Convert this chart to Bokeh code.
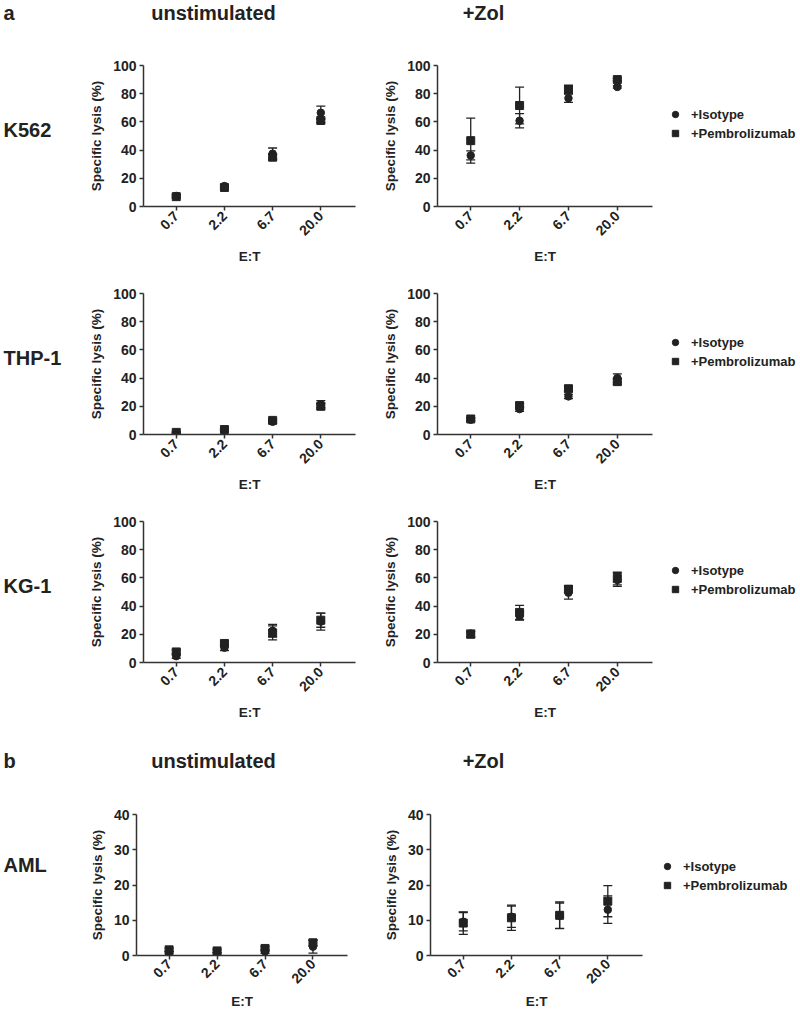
import math
from bokeh.plotting import figure
from bokeh.models import (Range1d, FixedTicker, ColumnDataSource, Whisker, TeeHead,
                          Legend, LegendItem, Label, Spacer)
from bokeh.layouts import column, row
from bokeh.embed import file_html
from bokeh.resources import INLINE

# ---------------- data ----------------
et_labels = ["0.7", "2.2", "6.7", "20.0"]
series_names = ["+Isotype", "+Pembrolizumab"]
row_labels = ["K562", "THP-1", "KG-1", "AML"]
col_titles = ["unstimulated", "+Zol"]
section_labels = ["a", "b"]

yticks_a = [0, 20, 40, 60, 80, 100]
yticks_b = [0, 10, 20, 30, 40]

# K562
k562_unstim_iso = [7.5, 14.5, 37.5, 66.5]
k562_unstim_iso_err = [1.0, 1.0, 4.0, 4.7]
k562_unstim_pem = [7.0, 13.5, 35.0, 61.0]
k562_unstim_pem_err = [0.8, 1.0, 2.0, 1.5]
k562_zol_iso = [36.2, 60.8, 76.8, 84.8]
k562_zol_iso_err = [3.2, 5.0, 3.0, 0.8]
k562_zol_pem = [46.7, 71.6, 83.0, 90.0]
k562_zol_pem_err = [16.0, 13.0, 3.0, 0.8]
# THP-1
thp1_unstim_iso = [0.8, 3.0, 9.0, 21.5]
thp1_unstim_iso_err = [0.5, 0.6, 1.0, 2.5]
thp1_unstim_pem = [1.5, 3.5, 10.0, 20.0]
thp1_unstim_pem_err = [0.5, 0.6, 1.0, 2.0]
thp1_zol_iso = [10.5, 18.0, 27.0, 40.0]
thp1_zol_iso_err = [1.0, 1.5, 1.5, 3.0]
thp1_zol_pem = [11.0, 20.5, 32.5, 37.5]
thp1_zol_pem_err = [1.0, 1.5, 2.0, 2.0]
# KG-1
kg1_unstim_iso = [4.5, 10.5, 22.5, 29.0]
kg1_unstim_iso_err = [1.5, 2.0, 4.5, 6.0]
kg1_unstim_pem = [7.5, 13.5, 21.0, 30.0]
kg1_unstim_pem_err = [1.5, 1.5, 5.0, 5.0]
kg1_zol_iso = [20.5, 33.0, 49.5, 58.5]
kg1_zol_iso_err = [2.5, 3.0, 4.5, 4.5]
kg1_zol_pem = [20.0, 35.5, 52.0, 59.5]
kg1_zol_pem_err = [2.0, 5.0, 2.5, 4.5]
# AML
aml_unstim_iso = [0.6, 0.4, 1.1, 2.5]
aml_unstim_iso_err = [0.5, 0.4, 0.5, 1.8]
aml_unstim_pem = [1.6, 1.3, 2.0, 3.6]
aml_unstim_pem_err = [0.4, 0.4, 0.5, 0.8]
aml_zol_iso = [9.6, 11.0, 11.3, 13.0]
aml_zol_iso_err = [2.6, 3.0, 3.6, 3.9]
aml_zol_pem = [9.2, 10.7, 11.4, 15.4]
aml_zol_pem_err = [3.2, 3.6, 3.8, 4.4]

# ---------------- style ----------------
FONT = "Liberation Sans"
DARK = "#222222"
AXC = "#333333"
W_TOTAL = 800
LABEL_W = 86
MARKERS = [("circle", 7.5), ("square", 8)]


def blank(width, height):
    p = figure(width=width, height=height, x_range=Range1d(0, width), y_range=Range1d(0, height),
               output_backend="svg", toolbar_location=None, x_axis_type=None, y_axis_type=None,
               min_border=0, outline_line_color=None)
    p.xgrid.visible = False
    p.ygrid.visible = False
    return p


def add_text(p, x, y, text, size="20px", align="left"):
    p.add_layout(Label(x=x, y=y, text=text, text_align=align, text_baseline="middle",
                       text_font=FONT, text_font_style="bold", text_font_size=size,
                       text_color=DARK))


def legend_block(width, height, top_gap):
    p = blank(width, height - top_gap)
    rends = []
    for marker, sz in MARKERS:
        # legend keys only: a single NaN point that is never drawn in the plot area
        rends.append(p.scatter(x=[float("nan")], y=[float("nan")], marker=marker, size=sz,
                               color=DARK))
    lg = Legend(items=[LegendItem(label=series_names[0], renderers=[rends[0]]),
                       LegendItem(label=series_names[1], renderers=[rends[1]])],
                location="top_left", border_line_color=None,
                background_fill_alpha=0, padding=5, spacing=3, margin=0,
                glyph_width=16, glyph_height=16, label_height=16, label_standoff=8,
                label_text_font=FONT, label_text_font_style="bold",
                label_text_font_size="13px", label_text_color=DARK)
    p.add_layout(lg)
    return column(Spacer(width=width, height=top_gap), p)


def panel(iso, iso_err, pem, pem_err, ymax, yticks, width, height, bl, br, bt, bb,
          xstand=3, lstand=6):
    p = figure(width=width, height=height, x_range=Range1d(-0.68, 3.72), y_range=Range1d(0, ymax),
               output_backend="svg", toolbar_location=None,
               min_border_left=bl, min_border_right=br, min_border_top=bt, min_border_bottom=bb,
               outline_line_color=None)
    p.xgrid.visible = False
    p.ygrid.visible = False
    xs = list(range(len(et_labels)))
    for (vals, errs), (marker, sz) in zip(((iso, iso_err), (pem, pem_err)), MARKERS):
        src = ColumnDataSource(dict(x=xs, y=vals,
                                    upper=[v + e for v, e in zip(vals, errs)],
                                    lower=[v - e for v, e in zip(vals, errs)]))
        wk = Whisker(source=src, base="x", upper="upper", lower="lower",
                     line_color=DARK, line_width=1.3,
                     upper_head=TeeHead(size=9, line_color=DARK, line_width=1.3),
                     lower_head=TeeHead(size=9, line_color=DARK, line_width=1.3))
        p.add_layout(wk)
        p.scatter("x", "y", source=src, marker=marker, size=sz, color=DARK)
    for ax in (p.xaxis[0], p.yaxis[0]):
        ax.axis_line_color = AXC
        ax.axis_line_width = 1.5
        ax.major_tick_line_color = AXC
        ax.major_tick_line_width = 1.5
        ax.major_tick_out = 4
        ax.major_tick_in = 0
        ax.minor_tick_line_color = None
        ax.major_label_text_font = FONT
        ax.major_label_text_font_style = "bold"
        ax.major_label_text_font_size = "14px"
        ax.major_label_text_color = DARK
        ax.axis_label_text_font = FONT
        ax.axis_label_text_font_style = "bold"
        ax.axis_label_text_font_size = "13.5px"
        ax.axis_label_text_color = DARK
    xa = p.xaxis[0]
    xa.ticker = FixedTicker(ticks=xs)
    xa.major_label_overrides = {i: lab for i, lab in enumerate(et_labels)}
    xa.major_label_orientation = math.pi / 4
    xa.major_label_standoff = xstand
    xa.axis_label = "E:T"
    xa.axis_label_standoff = lstand
    ya = p.yaxis[0]
    ya.ticker = FixedTicker(ticks=yticks)
    ya.major_label_standoff = 3
    ya.axis_label = "Specific lysis (%)"
    ya.axis_label_standoff = 6
    return p


# ---------------- section a ----------------
hdr_a = blank(W_TOTAL, 45)
add_text(hdr_a, 3, 33, section_labels[0])
add_text(hdr_a, 213, 33, col_titles[0], align="center")
add_text(hdr_a, 483, 33, col_titles[1], align="center")

rows_a = [
    (row_labels[0], k562_unstim_iso, k562_unstim_iso_err, k562_unstim_pem, k562_unstim_pem_err,
     k562_zol_iso, k562_zol_iso_err, k562_zol_pem, k562_zol_pem_err),
    (row_labels[1], thp1_unstim_iso, thp1_unstim_iso_err, thp1_unstim_pem, thp1_unstim_pem_err,
     thp1_zol_iso, thp1_zol_iso_err, thp1_zol_pem, thp1_zol_pem_err),
    (row_labels[2], kg1_unstim_iso, kg1_unstim_iso_err, kg1_unstim_pem, kg1_unstim_pem_err,
     kg1_zol_iso, kg1_zol_iso_err, kg1_zol_pem, kg1_zol_pem_err),
]

items = [hdr_a]
RH = 228
P2W = 287
for lab, ui, uie, up, upe, zi, zie, zp, zpe in rows_a:
    lf = blank(LABEL_W, RH)
    add_text(lf, 3, 123, lab)
    p1 = panel(ui, uie, up, upe, 100, yticks_a, 294, RH, 54, 25, 20, 67)
    p2 = panel(zi, zie, zp, zpe, 100, yticks_a, P2W, RH, 57, P2W - 57 - 215, 20, 67)
    lgb = legend_block(W_TOTAL - LABEL_W - 294 - P2W, RH, 61)
    items.append(row(lf, p1, p2, lgb))

# ---------------- section b ----------------
hdr_b = blank(W_TOTAL, 57)
add_text(hdr_b, 3, 26, section_labels[1])
add_text(hdr_b, 213, 26, col_titles[0], align="center")
add_text(hdr_b, 483, 26, col_titles[1], align="center")
items.append(hdr_b)

RH4 = 225
P42W = 279
lf4 = blank(LABEL_W, RH4)
add_text(lf4, 3, 145, row_labels[3])
p41 = panel(aml_unstim_iso, aml_unstim_iso_err, aml_unstim_pem, aml_unstim_pem_err,
            40, yticks_b, 294, RH4, 46, 33, 28, 54, xstand=2, lstand=3)
p42 = panel(aml_zol_iso, aml_zol_iso_err, aml_zol_pem, aml_zol_pem_err,
            40, yticks_b, P42W, RH4, 47, P42W - 47 - 215, 28, 54, xstand=2, lstand=3)
lgb4 = legend_block(W_TOTAL - LABEL_W - 294 - P42W, RH4, 72)
items.append(row(lf4, p41, p42, lgb4))

layout = column(*items)
open("out.html", "w").write(file_html(layout, INLINE))
